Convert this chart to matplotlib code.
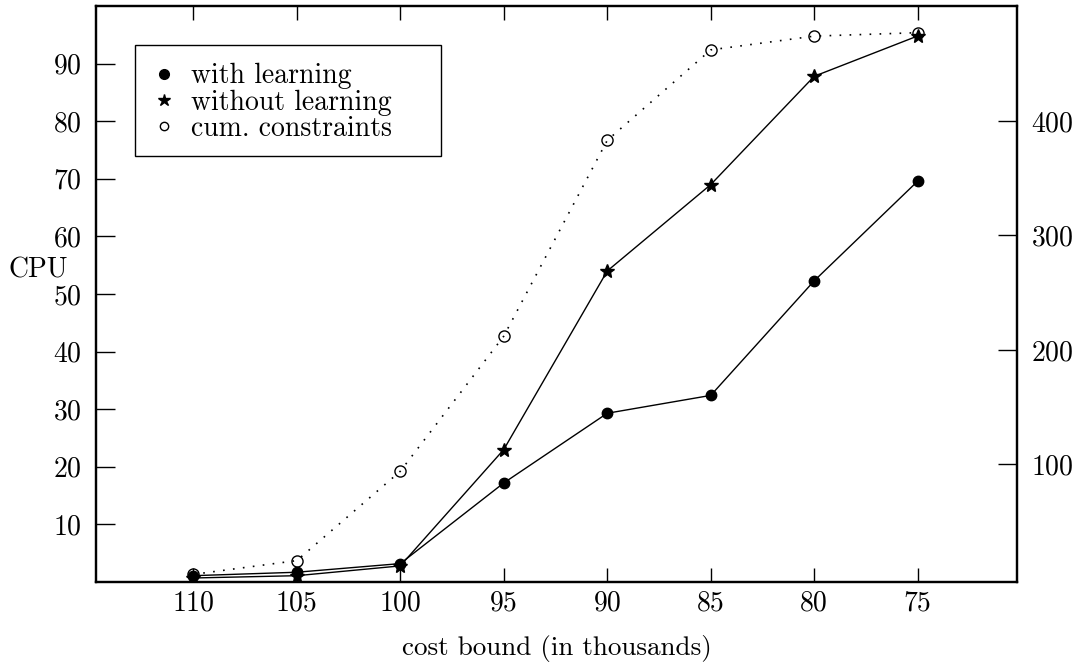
"""
CPU time and cumulative constraints against cost bound.
"""

import matplotlib
matplotlib.use("Agg")
import matplotlib.pyplot as plt
from matplotlib.lines import Line2D
from matplotlib.patches import Rectangle

plt.rcParams['font.family'] = ['cmr10', 'DejaVu Serif']
plt.rcParams['axes.formatter.use_mathtext'] = True

# cost bounds (in thousands)
cost_bound = [110, 105, 100, 95, 90, 85, 80, 75]

# CPU seconds (left axis)
cpu_with_learning = [1.1, 1.7, 3.2, 17.2, 29.3, 32.4, 52.3, 69.6]
cpu_without_learning = [0.7, 1.1, 2.8, 23.0, 54.0, 69.0, 87.8, 94.8]

# cumulative constraints (right axis)
cum_constraints = [4, 16, 94, 212, 383, 462, 474, 477]

left_ticks = [10, 20, 30, 40, 50, 60, 70, 80, 90]
right_ticks = [100, 200, 300, 400]

FS = 20

fig = plt.figure(figsize=(10.74, 6.67), dpi=100)
ax = fig.add_axes([0.0894, 0.1274, 0.8576, 0.8636])
ax2 = ax.twinx()

ax.plot(cost_bound, cpu_with_learning, color='black', lw=1.0,
        marker='o', markersize=7.5, zorder=3)
ax.plot(cost_bound, cpu_without_learning, color='black', lw=1.0,
        marker='*', markersize=10, zorder=3)
ax2.plot(cost_bound, cum_constraints, color='black', lw=1.2,
         linestyle=(0, (1, 5)), marker='o', markersize=8,
         markerfacecolor='none', markeredgewidth=1.0, zorder=3)

ax.set_xlim(114.7, 70.2)
ax.set_ylim(0, 100)
ax2.set_ylim(-2.7, 500.3)

ax.set_xticks(cost_bound)
ax.set_xticklabels([str(c) for c in cost_bound])
ax.set_yticks(left_ticks)
ax2.set_yticks(right_ticks)

for a in (ax, ax2):
    for s in a.spines.values():
        s.set_linewidth(1.6)

ax.tick_params(axis='x', direction='in', length=10, width=1.0,
               top=True, bottom=True, labelsize=FS, pad=6)
ax.tick_params(axis='y', direction='in', length=14, width=1.0,
               labelsize=FS, pad=10)
ax2.tick_params(axis='y', direction='in', length=14, width=1.0,
                labelsize=FS, pad=10)

ax.set_xlabel('cost bound (in thousands)', fontsize=19.5, labelpad=13)
ax.set_ylabel('CPU', fontsize=FS, rotation=0, ha='right', va='center')
ax.yaxis.set_label_coords(-0.030, 0.541)

# legend box drawn separately so its size matches the original
box = Rectangle((0.0423, 0.7396), 0.3323, 0.1927, transform=ax2.transAxes,
                facecolor='white', edgecolor='black', lw=1.0, zorder=4)
ax2.add_patch(box)

handles = [
    Line2D([], [], color='black', linestyle='none', marker='o', markersize=7),
    Line2D([], [], color='black', linestyle='none', marker='*', markersize=9),
    Line2D([], [], color='black', linestyle='none', marker='o', markersize=6,
           markerfacecolor='none', markeredgewidth=1.0),
]
labels = ['with learning', 'without learning', 'cum. constraints']
leg = ax2.legend(handles, labels, loc='upper left',
                 bbox_to_anchor=(0.0423, 0.9323), borderaxespad=0,
                 fontsize=FS, frameon=False,
                 labelspacing=0.0, handlelength=0.8, handletextpad=0.55,
                 borderpad=0.65)
leg.set_zorder(5)

fig.savefig('out.png', dpi=100)
